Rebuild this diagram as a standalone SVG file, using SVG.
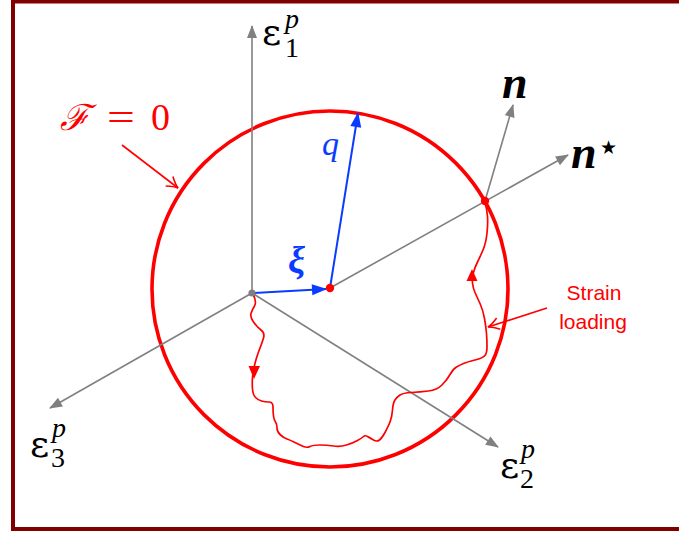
<svg xmlns="http://www.w3.org/2000/svg" width="679" height="536" viewBox="0 0 679 536">
<defs>
<style>
.axis{stroke:#808080;stroke-width:1.6;fill:none}
.blue{stroke:#0a3cff;stroke-width:2;fill:none}
.red{stroke:#ff0000;fill:none}
.math{font-family:"Liberation Serif","DejaVu Serif",serif;font-style:italic}
.eps{font-family:"DejaVu Serif","Liberation Serif",serif;font-style:normal;font-size:37px}
.sub{font-family:"Liberation Serif","DejaVu Serif",serif;font-style:normal;font-size:28px}
.sans{font-family:"Liberation Sans","DejaVu Sans",sans-serif;font-size:21px;fill:#ff0000}
</style>
<marker id="ag" markerUnits="userSpaceOnUse" markerWidth="14" markerHeight="12" refX="12" refY="5" orient="auto" overflow="visible">
<path d="M0,0 L13,5 L0,10 z" fill="#808080"/>
</marker>
<marker id="ab" markerUnits="userSpaceOnUse" markerWidth="16" markerHeight="12" refX="14" refY="5.5" orient="auto" overflow="visible">
<path d="M0,0 L15,5.5 L0,11 z" fill="#0a3cff"/>
</marker>
<marker id="ar" markerUnits="userSpaceOnUse" markerWidth="14" markerHeight="14" refX="0" refY="0" orient="auto" overflow="visible">
<path d="M-11,-6 Q-4,-1 0,0 Q-4,1 -11,6" fill="none" stroke="#ff0000" stroke-width="1.6"/>
</marker>
</defs>
<rect width="679" height="536" fill="#ffffff"/>
<rect id="frame" x="13" y="1.5" width="720" height="527.5" fill="none" stroke="#800000" stroke-width="4"/>

<g id="surface">
<circle cx="330" cy="289" r="178" class="red" stroke-width="3.6"/>
</g>

<g id="connectors">
<line id="axis-e1" class="axis" x1="252" y1="293" x2="252" y2="26" marker-end="url(#ag)"/>
<line id="axis-e3" class="axis" x1="252" y1="293" x2="50" y2="408" marker-end="url(#ag)"/>
<line id="axis-e2" class="axis" x1="252" y1="293" x2="498" y2="447" marker-end="url(#ag)"/>
<line id="axis-nstar" class="axis" x1="330" y1="288" x2="568" y2="155" marker-end="url(#ag)"/>
<line id="axis-n" class="axis" x1="485" y1="201" x2="513" y2="105" marker-end="url(#ag)"/>
<path id="strain-path" class="red" stroke-width="1.7" stroke-linejoin="round" d="M253,294 Q257,302 254.5,306 Q252,310 251,313.5 Q250,317 253.5,322 Q257,327 261,330 Q265,333 263.5,338 Q262,343 260,348 Q258,353 256.5,358 Q255,363 254,367.5 Q253,372 252.5,377.5 Q252,383 252.5,389 Q253,395 255.5,397.5 Q258,400 261.5,401 Q265,402 269,402 Q273,402 273,407 Q273,412 273.5,416 Q274,420 275.5,422 Q277,424 277,428 Q277,432 280.5,435 Q284,438 287,439 Q290,440 295,442.5 Q300,445 303.5,446.5 Q307,448 310,446.5 Q313,445 320,445 Q327,445 333.5,446 Q340,447 346.5,445 Q353,443 357.5,440.5 Q362,438 363.5,436.5 Q365,435 367.5,436.5 Q370,438 373.5,440 Q377,442 379.5,440 Q382,438 385,432.5 Q388,427 390,422 Q392,417 392.5,410 Q393,403 395,400 Q397,397 400,395 Q403,393 411.5,392.5 Q420,392 428.5,391 Q437,390 442,385 Q447,380 450,374.5 Q453,369 456.5,367 Q460,365 463.5,363.5 Q467,362 475,360 Q483,358 485,355.5 Q487,353 487,346.5 Q487,340 486.5,333.5 Q486,327 484.5,318.5 Q483,310 480,303.5 Q477,297 475,292.5 Q473,288 472.5,283 Q472,278 473.5,272.5 Q475,267 477.5,262 Q480,257 483,250 Q486,243 487,233 Q488,223 487.5,216.5 Q487,210 485,202"/>
<polygon points="248.5,366 260,366 254,379" fill="#ff0000"/>
<polygon points="466.5,281 477.5,281 472,269" fill="#ff0000"/>
<line id="arrow-xi" class="blue" x1="254" y1="293" x2="326" y2="289" marker-end="url(#ab)"/>
<line id="arrow-q" class="blue" x1="330" y1="288" x2="358" y2="113" marker-end="url(#ab)"/>
<line id="arrow-F" class="red" stroke-width="1.6" x1="122" y1="145" x2="178" y2="188" marker-end="url(#ar)"/>
<line id="arrow-strain" class="red" stroke-width="1.6" x1="547" y1="308" x2="488" y2="327" marker-end="url(#ar)"/>
</g>

<g id="points">
<circle id="origin" cx="252" cy="293" r="3.6" fill="#808080"/>
<circle id="xi-point" cx="330" cy="288" r="4.2" fill="#ff0000"/>
<circle id="n-point" cx="485" cy="201" r="4.2" fill="#ff0000"/>
</g>

<g id="labels">
<g id="label-e1"><text class="eps" x="262" y="45">ε</text><text class="sub" x="285" y="57">1</text><text class="math" x="285" y="28" font-size="28">p</text></g>
<g id="label-e3"><text class="eps" x="30" y="457">ε</text><text class="sub" x="51" y="467">3</text><text class="math" x="52" y="437" font-size="28">p</text></g>
<g id="label-e2"><text class="eps" x="500" y="478">ε</text><text class="sub" x="520" y="488">2</text><text class="math" x="521" y="458" font-size="28">p</text></g>
<g id="label-n"><text class="math" font-weight="bold" x="502" y="98" font-size="46">n</text></g>
<g id="label-nstar"><text class="math" font-weight="bold" x="571" y="168" font-size="46">n</text><text x="600" y="154" font-family="DejaVu Sans, sans-serif" font-size="19">★</text></g>
<g id="label-F" fill="#ff0000"><text x="60" y="130" font-family="DejaVu Serif, serif" font-style="italic" font-size="36">ℱ</text><text transform="translate(107,130) scale(1.3,1)" font-family="Liberation Serif, serif" font-size="38">=</text><text x="151" y="130" font-family="Liberation Serif, serif" font-size="38">0</text></g>
<g id="label-q"><text class="math" x="322" y="155" font-size="34" fill="#0a3cff">q</text></g>
<g id="label-xi"><text class="math" font-weight="bold" x="288" y="273" font-size="38" fill="#0a3cff">ξ</text></g>
<g id="label-strain"><text class="sans" x="594" y="300" text-anchor="middle">Strain</text><text class="sans" x="593" y="329" text-anchor="middle">loading</text></g>
</g>
</svg>
